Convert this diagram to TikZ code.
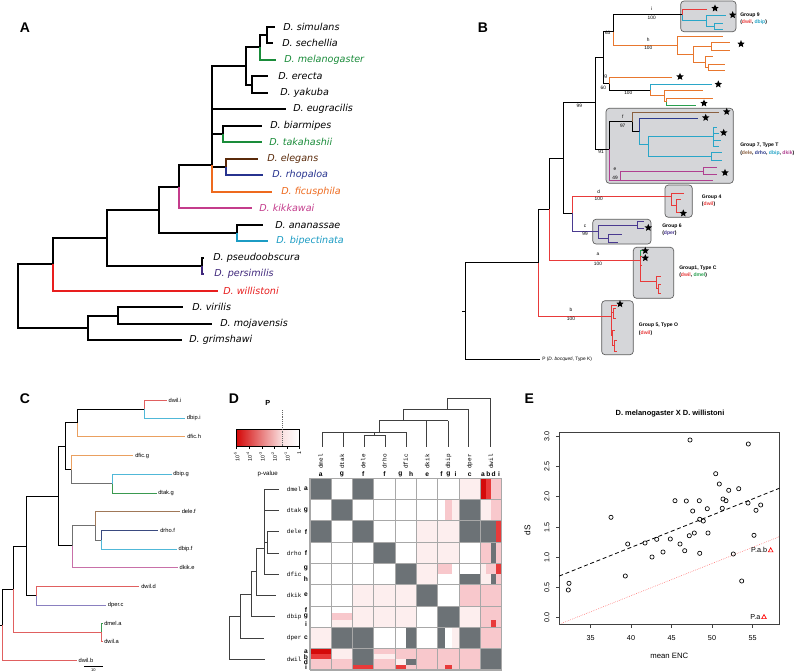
\documentclass[tikz,border=0pt]{standalone}
\usepackage{fontspec}
\setmainfont{Liberation Sans}
\setmonofont{Liberation Mono}
\newfontfamily\dvs{DejaVu Sans}
\usetikzlibrary{shapes.geometric}
% panel A colours
\definecolor{agreen}{HTML}{1A8C3A}
\definecolor{abrown}{HTML}{5A2A0A}
\definecolor{ablue}{HTML}{27338F}
\definecolor{aorange}{HTML}{EE6A1E}
\definecolor{amag}{HTML}{C43C8C}
\definecolor{acyan}{HTML}{1C9CC4}
\definecolor{apurple}{HTML}{40287C}
\definecolor{ared}{HTML}{E81E1E}
% panel B colours
\definecolor{bred}{HTML}{E83A3A}
\definecolor{bcyan}{HTML}{2AA6C8}
\definecolor{bora}{HTML}{E8772E}
\definecolor{bgreen}{HTML}{2AA050}
\definecolor{bbrown}{HTML}{8A6040}
\definecolor{bblue}{HTML}{2C3A8C}
\definecolor{bmag}{HTML}{B04090}
\definecolor{bpur}{HTML}{4A3A90}
\definecolor{boxfill}{HTML}{D5D6D9}
\definecolor{boxdraw}{HTML}{5A5A5A}
% panel C colours
\definecolor{cred}{HTML}{E06060}
\definecolor{ccyan}{HTML}{50B8D8}
\definecolor{cora}{HTML}{EAA060}
\definecolor{cgreen}{HTML}{3A9A50}
\definecolor{cbrown}{HTML}{A07858}
\definecolor{cblue}{HTML}{3A4A80}
\definecolor{cmag}{HTML}{C870A8}
\definecolor{cpur}{HTML}{8A80C0}
\definecolor{cgray}{HTML}{707070}
% heatmap
\definecolor{hg}{HTML}{6C7276}
\definecolor{pa}{HTML}{FDEEEE}
\definecolor{pb}{HTML}{F8C8CC}
\definecolor{hr}{HTML}{E83A3A}
\definecolor{hdr}{HTML}{D40A0A}
\definecolor{gridc}{HTML}{A8A8A8}
\definecolor{dend}{HTML}{404040}
\newcommand{\hm}[5]{\fill[#5] (#1,#2) rectangle (#3,#4);}
\tikzset{
  plet/.style={inner sep=0pt, font=\bfseries\fontsize{10.5}{12}\selectfont},
  alab/.style={anchor=west, inner sep=0pt, font=\dvs\itshape\fontsize{7.2}{8}\selectfont},
  bs/.style={inner sep=0pt, font=\fontsize{3.6}{4}\selectfont},
  glab/.style={anchor=west, inner sep=0pt, font=\bfseries\fontsize{3.8}{4.5}\selectfont},
  gbox/.style={fill=boxfill, draw=boxdraw, line width=0.5pt, rounded corners=2.5pt},
  starn/.style={star, star points=5, star point ratio=2.2, fill=black, inner sep=0pt, minimum size=5.8pt},
  clab/.style={anchor=west, inner sep=0pt, font=\fontsize{4.3}{5}\selectfont},
  dmono/.style={anchor=west, inner sep=0pt, font=\ttfamily\fontsize{4.5}{5}\selectfont},
  dlet/.style={inner sep=0pt, font=\bfseries\fontsize{5}{6}\selectfont},
  etick/.style={inner sep=0pt, font=\fontsize{5.4}{6}\selectfont},
  pt/.style={draw=black, line width=0.5pt},
}
\begin{document}
\begin{tikzpicture}[x=0.75pt,y=-0.75pt]
\useasboundingbox (0,0) rectangle (794,671);
\fill[white] (0,0) rectangle (794,671);

%================ PANEL A =================
\node[plet] (lA) at (25,28) {A};
\begin{scope}[line width=1.5pt]
\draw (18.3,296) |- (53,264.4);
\draw (18.3,296) |- (88,327.8);
\draw (53,264.4) |- (106.7,238);
\draw[ared] (53,264.4) |- (218,290.7);
\draw (106.7,238) |- (159,210);
\draw (106.7,238) |- (201.7,266);
\draw (201.7,266) |- (204,257.7);
\draw[apurple] (201.7,266) |- (204,274.2);
\draw (159,210) |- (179,186.6);
\draw (159,210) |- (236.7,233);
\draw (236.7,233) |- (263,224.7);
\draw[acyan] (236.7,233) |- (268,241.2);
\draw (179,186.6) |- (212,165);
\draw[amag] (179,186.6) |- (252,208.2);
\draw (212,165) |- (245.7,66);
\draw (212,165) |- (286,109.2);
\draw (212,165) |- (222.7,134);
\draw (212,165) |- (226,167);
\draw[aorange] (212,165) |- (272,191.7);
\draw (222.7,134) |- (262,125.7);
\draw[agreen] (222.7,134) |- (262,142.2);
\draw[abrown] (226,167) |- (258,158.7);
\draw[ablue] (226,167) |- (263,175.2);
\draw (245.7,66) |- (260,47.3);
\draw (245.7,66) |- (251.7,84.5);
\draw (251.7,84.5) |- (268,76.2);
\draw (251.7,84.5) |- (268,92.7);
\draw (260,47.3) |- (266.7,35);
\draw[agreen] (260,47.3) |- (276,59.7);
\draw (266.7,35) |- (275,26.7);
\draw (266.7,35) |- (273,43.2);
\draw (88,327.8) |- (117.7,315.5);
\draw (88,327.8) |- (182,340.2);
\draw (117.7,315.5) |- (183,307.2);
\draw (117.7,315.5) |- (212,323.7);
\end{scope}
\node[alab] (t1) at (283,26.7) {D. simulans};
\node[alab] (t2) at (282,43.2) {D. sechellia};
\node[alab, text=agreen] (t3) at (284,59.7) {D. melanogaster};
\node[alab] (t4) at (278,76.2) {D. erecta};
\node[alab] (t5) at (280,92.7) {D. yakuba};
\node[alab] (t6) at (293,109.2) {D. eugracilis};
\node[alab] (t7) at (270,125.7) {D. biarmipes};
\node[alab, text=agreen] (t8) at (269,142.2) {D. takahashii};
\node[alab, text=abrown] (t9) at (267,158.7) {D. elegans};
\node[alab, text=ablue] (t10) at (272,175.2) {D. rhopaloa};
\node[alab, text=aorange] (t11) at (281,191.7) {D. ficusphila};
\node[alab, text=amag] (t12) at (259,208.2) {D. kikkawai};
\node[alab] (t13) at (275,224.7) {D. ananassae};
\node[alab, text=acyan] (t14) at (276,241.2) {D. bipectinata};
\node[alab] (t15) at (213,257.7) {D. pseudoobscura};
\node[alab, text=apurple] (t16) at (214,274.2) {D. persimilis};
\node[alab, text=ared] (t17) at (223,290.7) {D. willistoni};
\node[alab] (t18) at (192,307.2) {D. virilis};
\node[alab] (t19) at (220,323.7) {D. mojavensis};
\node[alab] (t20) at (189,340.2) {D. grimshawi};

%================ PANEL B =================
\node[plet] (lB) at (483,28) {B};
\draw[gbox] (680.7,1) rectangle (736,31.7);
\draw[gbox] (606,108.3) rectangle (733.3,183.3);
\draw[gbox] (665,185) rectangle (692.3,217.3);
\draw[gbox] (592.7,219.3) rectangle (651,244);
\draw[gbox] (633.3,247.3) rectangle (673.7,298.3);
\draw[gbox] (601.7,300.7) rectangle (633.3,354.7);
\begin{scope}[line width=0.7pt]
\draw (462,311) -- (465,311);
\draw (465,311) |- (538,262.7);
\draw (465,311) |- (540,359.3);
\draw (538,262.7) |- (549,209);
\draw[bred] (538,262.7) |- (611,316);
\draw (549,209) |- (563,158);
\draw[bred] (549,209) |- (640,260.7);
\draw (563,158) |- (595,102.7);
\draw (563,158) |- (572.7,213);
\draw[bred] (572.7,213) |- (671,196);
\draw[bpur] (572.7,213) |- (598.3,231.7);
\draw (595,102.7) |- (603.3,57.7);
\draw (595,102.7) |- (609.3,149);
\draw (603.3,57.7) |- (613.3,31.7);
\draw (603.3,57.7) |- (609.3,83.8);
\draw (613.3,31.7) |- (682.7,14.8);
\draw[bora] (613.3,31.7) |- (677.3,45);
% group 9
\draw[bred] (682.7,14.8) |- (706.7,9);
\draw[bcyan] (682.7,14.8) |- (706,20.7);
\draw[bcyan] (706,20.7) |- (726,15);
\draw[bcyan] (706,20.7) |- (714.3,26.3);
\draw[bcyan] (714.3,26.3) |- (723.3,23.3);
\draw[bcyan] (714.3,26.3) |- (723.3,29.3);
% h
\draw[bora] (677.3,45) |- (723.3,36);
\draw[bora] (677.3,45) |- (693.3,54);
\draw[bora] (693.3,54) |- (711.7,46.3);
\draw[bora] (693.3,54) |- (705,62.5);
\draw[bora] (711.7,46.3) |- (730,42.7);
\draw[bora] (711.7,46.3) |- (730,50);
\draw[bora] (705,62.5) |- (713.3,56.7);
\draw[bora] (705,62.5) |- (708.3,67.3);
\draw[bora] (708.3,67.3) |- (725,64);
\draw[bora] (708.3,67.3) |- (725,70.7);
% g
\draw[bora] (609.3,83.8) |- (672.3,77.7);
\draw (609.3,83.8) |- (650.7,90);
\draw[bcyan] (650.7,90) |- (711.7,84.3);
\draw[bora] (650.7,90) |- (664,95.3);
\draw[bora] (664,95.3) |- (703.3,90.7);
\draw[bora] (664,95.3) |- (666,101.7);
\draw[bora] (666,101.7) |- (713.3,98.3);
\draw[bgreen] (666,101.7) |- (696,105);
% group 7
\draw (609.3,149) |- (632.7,121.7);
\draw[bmag] (609.3,149) |- (713.3,180.7);
\draw[bmag] (620,180.7) |- (703.3,171);
\draw[bmag] (703.3,171) |- (717,167.3);
\draw[bmag] (703.3,171) |- (717,174.3);
\draw[bbrown] (632.7,121.7) |- (719.3,112);
\draw (632.7,121.7) |- (639.3,131.7);
\draw[bblue] (639.3,131.7) |- (698.3,118.3);
\draw[bcyan] (639.3,131.7) |- (648.3,144);
\draw[bcyan] (648.3,144) |- (713.3,136);
\draw[bcyan] (648.3,144) |- (711.7,156.3);
\draw[bcyan] (713.3,136) |- (717,127);
\draw[bcyan] (713.3,136) |- (719,133);
\draw[bcyan] (713.3,136) |- (721,140);
\draw[bcyan] (713.3,136) |- (719,146.7);
\draw[bcyan] (711.7,156.3) |- (721.7,152.7);
\draw[bcyan] (711.7,156.3) |- (721.7,160);
% group 4
\draw[bred] (671,196) |- (684.3,193.5);
\draw[bred] (671,196) |- (676,205);
\draw[bred] (676,205) |- (681,199.5);
\draw[bred] (676,205) |- (680,212.5);
% group 6
\draw[bpur] (598.3,231.7) |- (637.7,225);
\draw[bpur] (598.3,231.7) |- (608.3,238.3);
\draw[bpur] (637.7,225) |- (644,221.7);
\draw[bpur] (637.7,225) |- (644,228.3);
\draw[bpur] (608.3,238.3) |- (621.7,234);
\draw[bpur] (608.3,238.3) |- (618,242.7);
% group 1
\draw[bgreen] (640,260.7) |- (643.3,250.3);
\draw[bred] (640,260.7) |- (642,256);
\draw[bred] (640,260.7) |- (642,265);
\draw[bred] (640,260.7) |- (656.7,281.7);
\draw[bred] (656.7,281.7) |- (660.7,276.7);
\draw[bred] (656.7,281.7) |- (658.3,288);
\draw[bred] (658.3,288) |- (661,284);
\draw[bred] (658.3,288) |- (661,293.3);
% group 5
\draw[bred] (611,316) |- (616.7,305);
\draw[bred] (611,316) |- (613.3,312);
\draw[bred] (613.3,312) |- (616,308.5);
\draw[bred] (613.3,312) |- (616,318);
\draw[bred] (611,316) |- (612.3,335);
\draw[bred] (612.3,335) |- (615,330);
\draw[bred] (612.3,335) |- (614.3,345);
\draw[bred] (614.3,345) |- (617,340.5);
\draw[bred] (614.3,345) |- (617,351.7);
\end{scope}
% stars
\foreach \p [count=\i] in {(715,8.3),(732.7,15),(741,44),(680,76.7),(718.3,84.3),(704,103.3),(726.7,111.7),(705.7,117.7),(723.7,132.7),(725,172.7),(683.3,213.3),(648.3,227.7),(645.3,250.7),(645.3,258),(620,304)}
  \node[starn] (st\i) at \p {};
% bootstrap labels
\node[bs] (bi) at (651.7,8.3) {i};
\node[bs] (bi2) at (651.7,18.3) {100};
\node[bs] (b63) at (607.7,32.7) {63};
\node[bs] (bh) at (648.3,40) {h};
\node[bs] (bh2) at (648.3,48.3) {100};
\node[bs] (bg) at (605.7,76.7) {g};
\node[bs] (bg2) at (603.3,87.7) {60};
\node[bs] (bg3) at (628.3,93.3) {100};
\node[bs] (b99) at (579.3,106) {99};
\node[bs] (bf) at (622.7,116.7) {f};
\node[bs] (bf2) at (622.7,126) {97};
\node[bs] (b91) at (601,151.7) {91};
\node[bs] (be) at (615,169.3) {e};
\node[bs] (be2) at (615,178.3) {49};
\node[bs] (bd) at (598.7,192) {d};
\node[bs] (bd2) at (598.7,199) {100};
\node[bs] (bc) at (585,226) {c};
\node[bs] (bc2) at (585,234.3) {99};
\node[bs] (ba) at (598,254) {a};
\node[bs] (ba2) at (598,264) {100};
\node[bs] (bb) at (571,310) {b};
\node[bs] (bb2) at (571,319.3) {100};
\node[bs, anchor=west] (bP) at (542,359.3) {P (\textit{D. bocqueti}, Type K)};
% group labels
\node[glab] (g9a) at (740,15) {Group 9};
\node[glab] (g9b) at (740,22) {(\textcolor{bred}{dwil}, \textcolor{bcyan}{dbip})};
\node[glab] (g7a) at (740,145.7) {Group 7, Type T};
\node[glab] (g7b) at (740,152.7) {(\textcolor{bbrown}{dele}, \textcolor{bblue}{drho}, \textcolor{bcyan}{dbip}, \textcolor{bmag}{dkik})};
\node[glab] (g4a) at (701.7,197.3) {Group 4};
\node[glab] (g4b) at (701.7,204) {(\textcolor{bred}{dwil})};
\node[glab] (g6a) at (662,226) {Group 6};
\node[glab] (g6b) at (662,233.3) {(\textcolor{bpur}{dper})};
\node[glab] (g1a) at (679,268) {Group1, Type C};
\node[glab] (g1b) at (679,275) {(\textcolor{bred}{dwil}, \textcolor{bgreen}{dmel})};
\node[glab] (g5a) at (638.7,325.7) {Group 5, Type O};
\node[glab] (g5b) at (638.7,333.3) {(\textcolor{bred}{dwil})};

%================ PANEL C =================
\node[plet] (lC) at (25,398.3) {C};
\begin{scope}[line width=0.6pt]
\draw (0,625) -- (2.7,625);
\draw (2.7,625) |- (13.3,589.3);
\draw[cred] (2.7,625) |- (76.7,660.7);
\draw (13.3,589.3) |- (26.7,546);
\draw[cred] (13.3,589.3) |- (101.7,632.3);
\draw (26.7,546) |- (58.3,496);
\draw (26.7,546) |- (36,595.5);
\draw[cred] (36,595.5) |- (139.3,586);
\draw[cpur] (36,595.5) |- (106,605);
\draw (58.3,496) |- (65,446.2);
\draw (58.3,496) |- (72.3,545.7);
\draw (65,446.2) |- (77.3,422.8);
\draw (65,446.2) |- (71,469.5);
\draw (77.3,422.8) |- (144,409.2);
\draw[cora] (77.3,422.8) |- (185,436.7);
\draw[cred] (144,409.2) |- (166.7,400);
\draw[ccyan] (144,409.2) |- (185,418.3);
\draw[cora] (71,469.5) |- (133.3,455.7);
\draw[cgray] (71,469.5) |- (112.7,483.8);
\draw[ccyan] (112.7,483.8) |- (171.7,474.3);
\draw[cgreen] (112.7,483.8) |- (156.7,493.3);
\draw[cgray] (72.3,545.7) |- (95,525.8);
\draw[cmag] (72.3,545.7) |- (177.7,567.3);
\draw[cbrown] (95,525.8) |- (180,511.7);
\draw[cgray] (95,525.8) |- (101,540);
\draw[cblue] (101,540) |- (158.3,530.7);
\draw[ccyan] (101,540) |- (176.7,549);
\draw[cgreen] (101.7,632.3) |- (103,623.3);
\draw[cred] (101.7,632.3) |- (103,641.7);
\draw (84,666) -- (102.7,666);
\end{scope}
\node[clab] (c1) at (168.3,400) {dwil.i};
\node[clab] (c2) at (186.7,418.3) {dbip.i};
\node[clab] (c3) at (187,436.7) {dfic.h};
\node[clab] (c4) at (135,455.7) {dfic.g};
\node[clab] (c5) at (173,474.3) {dbip.g};
\node[clab] (c6) at (158,493.3) {dtak.g};
\node[clab] (c7) at (181.5,511.7) {dele.f};
\node[clab] (c8) at (160,530.7) {drho.f};
\node[clab] (c9) at (178.3,549) {dbip.f};
\node[clab] (c10) at (179.3,567.3) {dkik.e};
\node[clab] (c11) at (141,586) {dwil.d};
\node[clab] (c12) at (107.7,605) {dper.c};
\node[clab] (c13) at (104,623.3) {dmel.a};
\node[clab] (c14) at (104,641.7) {dwil.a};
\node[clab] (c15) at (78.3,660.7) {dwil.b};
\node[inner sep=0pt, font=\fontsize{3}{3.5}\selectfont] (c16) at (93.3,670) {10};

%================ PANEL D =================
\node[plet] (lD) at (234,398.3) {D};
\node[inner sep=0pt, font=\bfseries\fontsize{5.5}{6}\selectfont] (dP) at (267.7,402.7) {P};
\shade[left color=hdr, right color=hdr!12!white] (236.7,429.3) rectangle (282.7,446);
\shade[left color=hdr!12!white, right color=white] (282.7,429.3) rectangle (299.3,446);
\draw[line width=0.5pt] (236.7,429.3) rectangle (299.3,446);
\draw[densely dotted, line width=0.4pt, black!60] (282.7,410) -- (282.7,446.7);
\foreach \x/\l [count=\i] in {236.7/10\textsuperscript{-5}, 249.3/10\textsuperscript{-4}, 262/10\textsuperscript{-3}, 274.3/10\textsuperscript{-2}, 287/10\textsuperscript{-1}, 299.3/1}{
  \draw[line width=0.4pt] (\x,446) -- (\x,449);
  \node[inner sep=0pt, rotate=90, anchor=east, font=\fontsize{4}{5}\selectfont] (pv\i) at (\x,451) {\l};
}
\node[inner sep=0pt, font=\fontsize{4.6}{5}\selectfont] (pval) at (267.7,474) {p-value};
% heatmap
\begin{scope}[shift={(310,478.3)}]
\begin{scope}[x=15.975pt,y=-15.975pt]
% row 0 dmel
\hm{0}{0}{1}{1}{hg} \hm{2}{0}{3}{1}{hg} \hm{7}{0}{8}{1}{pa}
\hm{8}{0}{8.25}{1}{hdr} \hm{8.25}{0}{8.5}{1}{hr} \hm{8.5}{0}{9}{1}{pb}
% row 1 dtak
\hm{1}{1}{2}{2}{hg} \hm{6.333}{1}{6.667}{2}{pb} \hm{6.667}{1}{7}{2}{pa}
\hm{7}{1}{8}{2}{hg} \hm{8}{1}{8.5}{2}{pa} \hm{8.5}{1}{9}{2}{pb}
% row 2 dele
\hm{0}{2}{1}{3}{hg} \hm{2}{2}{3}{3}{hg} \hm{5}{2}{7}{3}{pa}
\hm{7}{2}{8.75}{3}{hg} \hm{8.75}{2}{9}{3}{hr}
% row 3 drho
\hm{3}{3}{4}{4}{hg} \hm{5}{3}{7}{4}{pa} \hm{8}{3}{8.5}{4}{pb}
\hm{8.5}{3}{8.75}{4}{hg} \hm{8.75}{3}{9}{4}{pb}
% row 4 dfic
\hm{4}{4}{5}{5}{hg} \hm{5}{4}{6}{5}{pa} \hm{6}{4}{6.667}{4.5}{pb}
\hm{7}{4.5}{8}{5}{hg} \hm{8}{4}{8.25}{4.5}{pa} \hm{8.25}{4}{8.75}{4.5}{pb}
\hm{8.75}{4}{9}{4.5}{hr} \hm{8}{4.5}{8.5}{5}{pa} \hm{8.5}{4.5}{8.75}{5}{hg}
\hm{8.75}{4.5}{9}{5}{pb}
% row 5 dkik
\hm{2}{5}{5}{6}{pa} \hm{5}{5}{6}{6}{hg} \hm{7}{5}{9}{6}{pb}
% row 6 dbip
\hm{1}{6.333}{2}{6.667}{pb} \hm{1}{6.667}{2}{7}{pa} \hm{2}{6}{5}{7}{pa}
\hm{6}{6}{7}{7}{hg} \hm{7}{6}{8}{7}{pa} \hm{8}{6}{9}{7}{pb}
\hm{8.5}{6.667}{8.75}{7}{hr}
% row 7 dper
\hm{0}{7}{1}{8}{pa} \hm{1}{7}{3}{8}{hg} \hm{4.5}{7}{5}{8}{hg}
\hm{6}{7}{6.333}{8}{hg} \hm{6.667}{7}{7}{8}{pa}
\hm{7}{7}{8}{8}{hg} \hm{8}{7}{9}{8}{pb}
% row 8 dwil
\hm{0}{8}{1}{8.25}{hdr} \hm{0}{8.25}{1}{8.5}{hr} \hm{0}{8.5}{1}{9}{pb}
\hm{1}{8}{2}{8.5}{pa} \hm{1}{8.5}{2}{9}{pb}
\hm{2}{8}{3}{8.75}{hg} \hm{2}{8.75}{3}{9}{hr}
\hm{3}{8}{4}{9}{pb} \hm{3}{8.25}{4}{8.5}{pa}
\hm{4}{8}{4.5}{8.5}{pb} \hm{4}{8.5}{4.5}{8.75}{pa} \hm{4}{8.75}{4.5}{9}{hr}
\hm{4.5}{8}{5}{8.5}{pb} \hm{4.5}{8.5}{5}{8.75}{hg} \hm{4.5}{8.75}{5}{9}{pb}
\hm{5}{8}{6}{9}{pb} \hm{6}{8}{7}{9}{pb} \hm{6.333}{8.75}{6.667}{9}{hr}
\hm{7}{8}{8}{9}{pb} \hm{8}{8}{9}{9}{hg}
\foreach \i in {0,...,9}{
  \draw[gridc, line width=0.8pt] (\i,0) -- (\i,9);
  \draw[gridc, line width=0.8pt] (0,\i) -- (9,\i);
}
\end{scope}
\end{scope}
% row dendrogram
\begin{scope}[dend, line width=0.6pt]
\draw (264,548) |- (279,489);
\draw (264,548) |- (279,510.3);
\draw (264,548) |- (267.3,542.3);
\draw (264,548) |- (279,574.2);
\draw (267.3,542.3) |- (279,531.6);
\draw (267.3,542.3) |- (279,552.9);
\draw (256.7,571.7) |- (264,548);
\draw (256.7,571.7) |- (276,595.5);
\draw (251.7,594) |- (256.7,571.7);
\draw (251.7,594) |- (275,616.8);
\draw (240.7,616) |- (251.7,594);
\draw (240.7,616) |- (264,638.1);
\draw (229,637.7) |- (240.7,616);
\draw (229,637.7) |- (265,659.4);
% column dendrogram
\draw (374.5,435) -| (364,446.7);
\draw (374.5,435) -| (385,446.7);
\draw (374.5,435) -- (374.5,432.3);
\draw (322.3,432.3) -- (406,432.3);
\draw (322.3,432.3) -- (322.3,446.7);
\draw (343.3,432.3) -- (343.3,446.7);
\draw (406,432.3) -- (406,446.7);
\draw (379.3,432.3) -- (379.3,420.7);
\draw (379.3,420.7) -- (448.3,420.7);
\draw (426.7,420.7) -- (426.7,446.7);
\draw (448.3,420.7) -- (448.3,446.7);
\draw (403.3,420.7) -- (403.3,409.3);
\draw (403.3,409.3) -- (468.3,409.3);
\draw (468.3,409.3) -- (468.3,446.7);
\draw (447.3,409.3) -- (447.3,398.3);
\draw (447.3,398.3) -- (490,398.3);
\draw (490,398.3) -- (490,446.7);
\end{scope}
% row labels
\node[dmono] (r1) at (286.7,489) {dmel};   \node[dlet] (r1l) at (306,489) {a};
\node[dmono] (r2) at (286.7,510.3) {dtak}; \node[dlet] (r2l) at (306,510.3) {g};
\node[dmono] (r3) at (286.7,531.6) {dele}; \node[dlet] (r3l) at (306,531.6) {f};
\node[dmono] (r4) at (286.7,552.9) {drho}; \node[dlet] (r4l) at (306,552.9) {f};
\node[dmono] (r5) at (286.7,574.2) {dfic}; \node[dlet] (r5l) at (306,568.9) {g}; \node[dlet] (r5m) at (306,579.5) {h};
\node[dmono] (r6) at (286.7,595.5) {dkik}; \node[dlet] (r6l) at (306,594.3) {e};
\node[dmono] (r7) at (286.7,616.8) {dbip}; \node[dlet] (r7l) at (306,609.7) {f}; \node[dlet] (r7m) at (306,616.8) {g}; \node[dlet] (r7n) at (306,623.9) {i};
\node[dmono] (r8) at (286.7,638.1) {dper}; \node[dlet] (r8l) at (306,638.1) {c};
\node[dmono] (r9) at (286.7,659.4) {dwil}; \node[dlet] (r9l) at (306,651.4) {a}; \node[dlet] (r9m) at (306,656.7) {b}; \node[dlet] (r9n) at (306,662) {d}; \node[dlet] (r9o) at (306,667.3) {i};
% column labels
\foreach \x/\n [count=\i] in {320.65/dmel, 341.95/dtak, 363.25/dele, 384.55/drho, 405.85/dfic, 427.15/dkik, 448.45/dbip, 469.75/dper, 491.05/dwil}
  \node[dmono, rotate=90] (cn\i) at (\x,469) {\n};
\foreach \x/\n [count=\i] in {320.65/a, 341.95/g, 363.25/f, 384.55/f, 400.5/g, 411.2/h, 427.15/e, 441.4/f, 448.45/g, 455.5/i, 469.75/c, 483.05/a, 488.4/b, 493.7/d, 499/i}
  \node[dlet] (cl\i) at (\x,474.5) {\n};

%================ PANEL E =================
\node[plet] (lE) at (529.3,398.3) {E};
\node[inner sep=0pt, font=\bfseries\fontsize{5.6}{6.5}\selectfont] (etitle) at (670,414) {D. melanogaster X D. willistoni};
\draw[line width=0.6pt, black!75] (559.3,432.7) rectangle (779.3,624);
\foreach \y/\l [count=\i] in {617.3/0.0, 587.3/0.5, 557.3/1.0, 527/1.5, 496.7/2.0, 466.7/2.5, 436.7/3.0}{
  \draw[line width=0.5pt, black!75] (559.3,\y) -- (555.5,\y);
  \node[etick, rotate=90] (ey\i) at (547,\y) {\l};
}
\foreach \x/\l [count=\i] in {590.7/35, 631/40, 671.7/45, 712/50, 752.7/55}{
  \draw[line width=0.5pt, black!75] (\x,624) -- (\x,627.8);
  \node[etick] (ex\i) at (\x,638.3) {\l};
}
\node[inner sep=0pt, font=\fontsize{5.8}{6.5}\selectfont] (exl) at (669.3,656) {mean ENC};
\node[inner sep=0pt, rotate=90, font=\fontsize{6.2}{7}\selectfont] (eyl) at (527.3,530) {dS};
\begin{scope}
\clip (559.3,432.7) rectangle (779.3,624);
\draw[densely dashed, line width=0.6pt] (559.3,576) -- (779.3,488.3);
\draw[densely dotted, line width=0.4pt, red!70] (561.7,623.3) -- (779.3,536.7);
\end{scope}
\foreach \p in {(568.3,590),(569,583.3),(611,517.3),(625.3,576),(627.7,544),(645,543),(652,557),(656.7,539.3),(663,552),(670.3,539),(675,500.7),(680,544),(684.7,550.7),(686.3,501),(689.3,535.7),(692.7,511),(694.3,533),(699.3,500.7),(699.7,519.3),(699.7,553.3),(703.3,521),(707.3,508.7),(708,533),(715.7,473.7),(719.3,484),(722.3,508.3),(723,499),(726,500.7),(728.7,490.3),(733.3,554),(738.7,488.7),(741.7,581),(748,503),(754,535.3),(756,510.3),(760.7,505),(690,440),(748.3,444)}
  \draw[pt] \p circle (2.1);
\node[etick, anchor=east] (pab) at (767.3,550) {P.a.b};
\draw[red, line width=0.5pt] (768.4,551.9) -- (770.7,547.8) -- (773,551.9) -- cycle;
\node[etick, anchor=east] (pa) at (760.6,616.7) {P.a};
\draw[red, line width=0.5pt] (761.7,618.6) -- (764,614.5) -- (766.3,618.6) -- cycle;
\end{tikzpicture}
\end{document}
